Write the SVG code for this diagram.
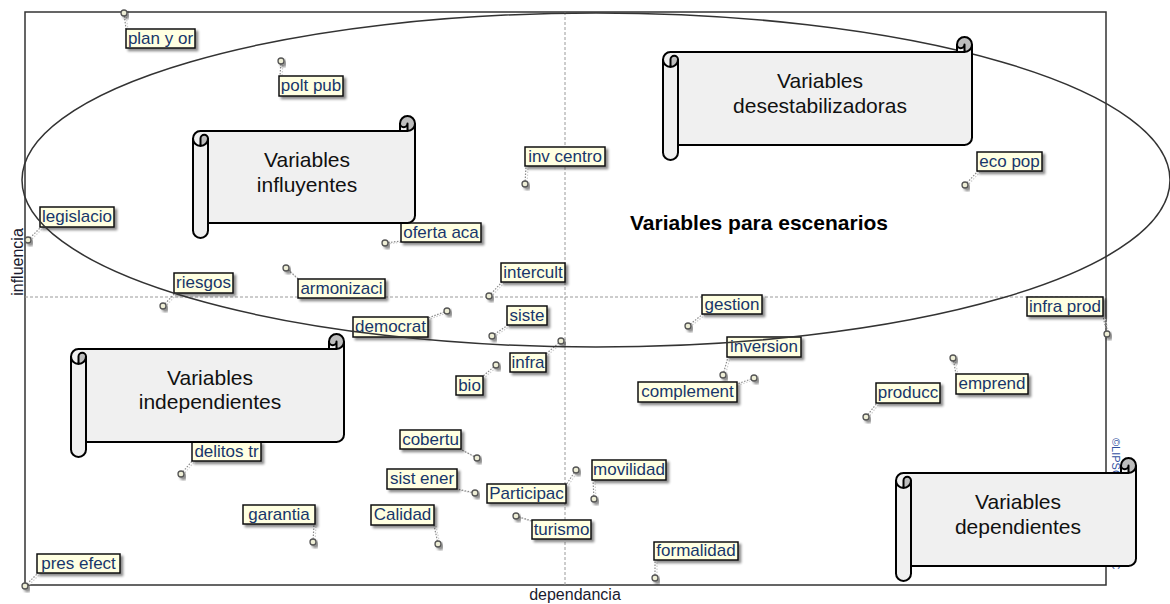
<svg xmlns="http://www.w3.org/2000/svg" width="1170" height="604" viewBox="0 0 1170 604">
<defs>
<filter id="sh" x="-20%" y="-30%" width="150%" height="190%">
<feDropShadow dx="2.5" dy="2.5" stdDeviation="1" flood-color="#000" flood-opacity="0.45"/>
</filter>
<style>
.frame{fill:none;stroke:#333;stroke-width:1.5}
.grid{fill:none;stroke:#9a9a9a;stroke-width:1;stroke-dasharray:3 2}
.ell{fill:none;stroke:#333;stroke-width:1.5}
.axis{font-family:"Liberation Sans",Arial,sans-serif;font-size:16px;fill:#1a1a2e}
.copy{font-family:"Liberation Sans",Arial,sans-serif;font-size:11px;fill:#2f4f9f}
.conn{fill:none;stroke:#8a8a8a;stroke-width:1.2;stroke-dasharray:1.5 1.5}
.conn2{fill:none;stroke:#cfcfcf;stroke-width:1.2;stroke-dasharray:1.5 1.5}
.pt{fill:#eeeed6;stroke:#555;stroke-width:1.3;filter:url(#sh)}
.box{fill:#ffffe1;stroke:#111;stroke-width:1.5;filter:url(#sh)}
.lt{font-family:"Liberation Sans",Arial,sans-serif;font-size:17px;fill:#17366b;text-anchor:middle}
.sf{fill:#f0f0f0}
.sd{fill:#bdbdbd}
.sl{fill:none;stroke:#000;stroke-width:2;stroke-linejoin:round}
.st{font-family:"Liberation Sans",Arial,sans-serif;font-size:21px;fill:#111;text-anchor:middle}
.bt{font-family:"Liberation Sans",Arial,sans-serif;font-size:21px;font-weight:bold;fill:#000;text-anchor:middle}
</style>
</defs>
<rect width="1170" height="604" fill="#fff"/>
<g id="axes">
<rect class="frame" x="25" y="12" width="1081" height="573"/>
<line class="grid" x1="565" y1="12" x2="565" y2="585"/>
<line class="grid" x1="25" y1="297" x2="1106" y2="297"/>
<text class="axis" transform="translate(23,262) rotate(-90)" text-anchor="middle">influencia</text>
<text class="axis" x="575" y="600" text-anchor="middle">dependancia</text>
<text class="copy" transform="translate(1112,438) rotate(90)">©LIPSOR-EPITA-MICMAC</text>
</g>
<g id="connectors">
<line class="conn2" x1="126" y1="14" x2="128" y2="30"/><line class="conn" x1="124" y1="13" x2="126" y2="29"/>
<line class="conn2" x1="283" y1="62" x2="282" y2="77"/><line class="conn" x1="281" y1="61" x2="280" y2="76"/>
<line class="conn2" x1="30" y1="241" x2="43" y2="228"/><line class="conn" x1="28" y1="240" x2="41" y2="227"/>
<line class="conn2" x1="165" y1="307" x2="177" y2="294"/><line class="conn" x1="163" y1="306" x2="175" y2="293"/>
<line class="conn2" x1="288" y1="269" x2="300" y2="280"/><line class="conn" x1="286" y1="268" x2="298" y2="279"/>
<line class="conn2" x1="387" y1="244" x2="403" y2="242"/><line class="conn" x1="385" y1="243" x2="401" y2="241"/>
<line class="conn2" x1="527" y1="185" x2="528" y2="167"/><line class="conn" x1="525" y1="184" x2="526" y2="166"/>
<line class="conn2" x1="967" y1="186" x2="980" y2="172"/><line class="conn" x1="965" y1="185" x2="978" y2="171"/>
<line class="conn2" x1="1109" y1="335" x2="1105" y2="317"/><line class="conn" x1="1107" y1="334" x2="1103" y2="316"/>
<line class="conn2" x1="491" y1="297" x2="504" y2="283"/><line class="conn" x1="489" y1="296" x2="502" y2="282"/>
<line class="conn2" x1="449" y1="312" x2="430" y2="319"/><line class="conn" x1="447" y1="311" x2="428" y2="318"/>
<line class="conn2" x1="494" y1="337" x2="510" y2="326"/><line class="conn" x1="492" y1="336" x2="508" y2="325"/>
<line class="conn2" x1="563" y1="342" x2="548" y2="355"/><line class="conn" x1="561" y1="341" x2="546" y2="354"/>
<line class="conn2" x1="498" y1="366" x2="484" y2="378"/><line class="conn" x1="496" y1="365" x2="482" y2="377"/>
<line class="conn2" x1="690" y1="327" x2="705" y2="315"/><line class="conn" x1="688" y1="326" x2="703" y2="314"/>
<line class="conn2" x1="725" y1="376" x2="730" y2="358"/><line class="conn" x1="723" y1="375" x2="728" y2="357"/>
<line class="conn2" x1="756" y1="379" x2="739" y2="385"/><line class="conn" x1="754" y1="378" x2="737" y2="384"/>
<line class="conn2" x1="868" y1="418" x2="879" y2="404"/><line class="conn" x1="866" y1="417" x2="877" y2="403"/>
<line class="conn2" x1="955" y1="359" x2="958" y2="375"/><line class="conn" x1="953" y1="358" x2="956" y2="374"/>
<line class="conn2" x1="183" y1="475" x2="195" y2="461"/><line class="conn" x1="181" y1="474" x2="193" y2="460"/>
<line class="conn2" x1="315" y1="543" x2="316" y2="525"/><line class="conn" x1="313" y1="542" x2="314" y2="524"/>
<line class="conn2" x1="27" y1="587" x2="40" y2="574"/><line class="conn" x1="25" y1="586" x2="38" y2="573"/>
<line class="conn2" x1="479" y1="459" x2="462" y2="450"/><line class="conn" x1="477" y1="458" x2="460" y2="449"/>
<line class="conn2" x1="477" y1="494" x2="459" y2="490"/><line class="conn" x1="475" y1="493" x2="457" y2="489"/>
<line class="conn2" x1="578" y1="471" x2="568" y2="486"/><line class="conn" x1="576" y1="470" x2="566" y2="485"/>
<line class="conn2" x1="596" y1="500" x2="595" y2="481"/><line class="conn" x1="594" y1="499" x2="593" y2="480"/>
<line class="conn2" x1="518" y1="517" x2="534" y2="522"/><line class="conn" x1="516" y1="516" x2="532" y2="521"/>
<line class="conn2" x1="440" y1="545" x2="436" y2="526"/><line class="conn" x1="438" y1="544" x2="434" y2="525"/>
<line class="conn2" x1="657" y1="579" x2="657" y2="561"/><line class="conn" x1="655" y1="578" x2="655" y2="560"/>
</g>
<g id="n-plan"><circle class="pt" cx="124" cy="13" r="3"/><rect class="box" x="126" y="29" width="69" height="19"/><text class="lt" x="160.5" y="44">plan y or</text></g>
<g id="n-polt"><circle class="pt" cx="281" cy="61" r="3"/><rect class="box" x="279" y="76" width="64" height="20"/><text class="lt" x="311" y="91">polt pub</text></g>
<g id="n-legislacio"><circle class="pt" cx="28" cy="240" r="3"/><rect class="box" x="40" y="207" width="74" height="20"/><text class="lt" x="77" y="222">legislacio</text></g>
<g id="n-riesgos"><circle class="pt" cx="163" cy="306" r="3"/><rect class="box" x="174" y="273" width="59" height="20"/><text class="lt" x="203.5" y="288">riesgos</text></g>
<g id="n-armonizaci"><circle class="pt" cx="286" cy="268" r="3"/><rect class="box" x="298" y="279" width="87" height="19"/><text class="lt" x="341.5" y="294">armonizaci</text></g>
<g id="n-oferta"><circle class="pt" cx="385" cy="243" r="3"/><rect class="box" x="401" y="223" width="80" height="19"/><text class="lt" x="441" y="238">oferta aca</text></g>
<g id="n-inv"><circle class="pt" cx="525" cy="184" r="3"/><rect class="box" x="525" y="147" width="80" height="19"/><text class="lt" x="565" y="162">inv centro</text></g>
<g id="n-eco"><circle class="pt" cx="965" cy="185" r="3"/><rect class="box" x="977" y="152" width="65" height="19"/><text class="lt" x="1009.5" y="167">eco pop</text></g>
<g id="n-infraprod"><circle class="pt" cx="1107" cy="334" r="3"/><rect class="box" x="1027" y="297" width="76" height="19"/><text class="lt" x="1065" y="312">infra prod</text></g>
<g id="n-intercult"><circle class="pt" cx="489" cy="296" r="3"/><rect class="box" x="501" y="263" width="64" height="19"/><text class="lt" x="533" y="278">intercult</text></g>
<g id="n-democrat"><circle class="pt" cx="447" cy="311" r="3"/><rect class="box" x="353" y="317" width="75" height="20"/><text class="lt" x="390.5" y="332">democrat</text></g>
<g id="n-siste"><circle class="pt" cx="492" cy="336" r="3"/><rect class="box" x="507" y="306" width="40" height="19"/><text class="lt" x="527" y="321">siste</text></g>
<g id="n-infra"><circle class="pt" cx="561" cy="341" r="3"/><rect class="box" x="510" y="353" width="36" height="19"/><text class="lt" x="528" y="368">infra</text></g>
<g id="n-bio"><circle class="pt" cx="496" cy="365" r="3"/><rect class="box" x="456" y="376" width="27" height="19"/><text class="lt" x="469.5" y="391">bio</text></g>
<g id="n-gestion"><circle class="pt" cx="688" cy="326" r="3"/><rect class="box" x="702" y="295" width="60" height="19"/><text class="lt" x="732" y="310">gestion</text></g>
<g id="n-inversion"><circle class="pt" cx="723" cy="375" r="3"/><rect class="box" x="727" y="337" width="74" height="20"/><text class="lt" x="764" y="352">inversion</text></g>
<g id="n-complement"><circle class="pt" cx="754" cy="378" r="3"/><rect class="box" x="638" y="382" width="99" height="20"/><text class="lt" x="687.5" y="397">complement</text></g>
<g id="n-producc"><circle class="pt" cx="866" cy="417" r="3"/><rect class="box" x="876" y="383" width="64" height="20"/><text class="lt" x="908" y="398">producc</text></g>
<g id="n-emprend"><circle class="pt" cx="953" cy="358" r="3"/><rect class="box" x="956" y="374" width="72" height="20"/><text class="lt" x="992" y="389">emprend</text></g>
<g id="n-delitos"><circle class="pt" cx="181" cy="474" r="3"/><rect class="box" x="192" y="442" width="69" height="19"/><text class="lt" x="226.5" y="457">delitos tr</text></g>
<g id="n-garantia"><circle class="pt" cx="313" cy="542" r="3"/><rect class="box" x="243" y="505" width="72" height="19"/><text class="lt" x="279" y="520">garantia</text></g>
<g id="n-pres"><circle class="pt" cx="25" cy="586" r="3"/><rect class="box" x="37" y="554" width="83" height="19"/><text class="lt" x="78.5" y="569">pres efect</text></g>
<g id="n-cobertu"><circle class="pt" cx="477" cy="458" r="3"/><rect class="box" x="400" y="430" width="61" height="19"/><text class="lt" x="430.5" y="445">cobertu</text></g>
<g id="n-sist"><circle class="pt" cx="475" cy="493" r="3"/><rect class="box" x="387" y="469" width="70" height="20"/><text class="lt" x="422" y="484">sist ener</text></g>
<g id="n-participac"><circle class="pt" cx="576" cy="470" r="3"/><rect class="box" x="487" y="484" width="79" height="19"/><text class="lt" x="526.5" y="499">Participac</text></g>
<g id="n-movilidad"><circle class="pt" cx="594" cy="499" r="3"/><rect class="box" x="592" y="460" width="74" height="20"/><text class="lt" x="629" y="475">movilidad</text></g>
<g id="n-turismo"><circle class="pt" cx="516" cy="516" r="3"/><rect class="box" x="532" y="520" width="59" height="19"/><text class="lt" x="561.5" y="535">turismo</text></g>
<g id="n-calidad"><circle class="pt" cx="438" cy="544" r="3"/><rect class="box" x="371" y="505" width="63" height="20"/><text class="lt" x="402.5" y="520">Calidad</text></g>
<g id="n-formalidad"><circle class="pt" cx="655" cy="578" r="3"/><rect class="box" x="654" y="542" width="84" height="18"/><text class="lt" x="696" y="556">formalidad</text></g>
<g id="ellipse"><ellipse class="ell" cx="596" cy="180" rx="574" ry="167"/></g>
<text id="escenarios" class="bt" x="759" y="230">Variables para escenarios</text>
<g id="s-influyentes">
<path class="sf" d="M193,138.5 A7.5,7.5 0 0 1 200.5,131 L400,131 L400,123.5 A7.5,7.5 0 0 1 415,123.5 L415,215.5 A7.5,7.5 0 0 1 407.5,223 L208,223 L208,230.5 A7.5,7.5 0 0 1 193,230.5 Z"/>
<path class="sd" d="M200.5,146 A7.5,7.5 0 0 0 208,138.5 A3.75,3.75 0 0 0 200.5,138.5 Z M407.5,131 A7.5,7.5 0 1 0 400,123.5 A3.75,3.75 0 0 0 407.5,123.5 Z"/>
<path class="sl" d="M193,138.5 A7.5,7.5 0 0 1 200.5,131 L400,131 L400,123.5 A7.5,7.5 0 0 1 415,123.5 L415,215.5 A7.5,7.5 0 0 1 407.5,223 L208,223 L208,230.5 A7.5,7.5 0 0 1 193,230.5 Z M400,131 L407.5,131 A7.5,7.5 0 0 0 415,123.5 M407.5,131 L407.5,123.5 A3.75,3.75 0 0 1 400,123.5 M200.5,146 L200.5,138.5 A3.75,3.75 0 0 1 208,138.5 A7.5,7.5 0 0 1 193,138.5 M208,138.5 L208,223"/>
<text class="st" x="307" y="167">Variables</text><text class="st" x="307" y="192">influyentes</text>
</g>
<g id="s-desestabilizadoras">
<path class="sf" d="M663,59.5 A7.5,7.5 0 0 1 670.5,52 L957,52 L957,44.5 A7.5,7.5 0 0 1 972,44.5 L972,137.5 A7.5,7.5 0 0 1 964.5,145 L678,145 L678,152.5 A7.5,7.5 0 0 1 663,152.5 Z"/>
<path class="sd" d="M670.5,67 A7.5,7.5 0 0 0 678,59.5 A3.75,3.75 0 0 0 670.5,59.5 Z M964.5,52 A7.5,7.5 0 1 0 957,44.5 A3.75,3.75 0 0 0 964.5,44.5 Z"/>
<path class="sl" d="M663,59.5 A7.5,7.5 0 0 1 670.5,52 L957,52 L957,44.5 A7.5,7.5 0 0 1 972,44.5 L972,137.5 A7.5,7.5 0 0 1 964.5,145 L678,145 L678,152.5 A7.5,7.5 0 0 1 663,152.5 Z M957,52 L964.5,52 A7.5,7.5 0 0 0 972,44.5 M964.5,52 L964.5,44.5 A3.75,3.75 0 0 1 957,44.5 M670.5,67 L670.5,59.5 A3.75,3.75 0 0 1 678,59.5 A7.5,7.5 0 0 1 663,59.5 M678,59.5 L678,145"/>
<text class="st" x="820" y="88">Variables</text><text class="st" x="820" y="113">desestabilizadoras</text>
</g>
<g id="s-independientes">
<path class="sf" d="M71,356.5 A7.5,7.5 0 0 1 78.5,349 L329,349 L329,341.5 A7.5,7.5 0 0 1 344,341.5 L344,434.5 A7.5,7.5 0 0 1 336.5,442 L86,442 L86,449.5 A7.5,7.5 0 0 1 71,449.5 Z"/>
<path class="sd" d="M78.5,364 A7.5,7.5 0 0 0 86,356.5 A3.75,3.75 0 0 0 78.5,356.5 Z M336.5,349 A7.5,7.5 0 1 0 329,341.5 A3.75,3.75 0 0 0 336.5,341.5 Z"/>
<path class="sl" d="M71,356.5 A7.5,7.5 0 0 1 78.5,349 L329,349 L329,341.5 A7.5,7.5 0 0 1 344,341.5 L344,434.5 A7.5,7.5 0 0 1 336.5,442 L86,442 L86,449.5 A7.5,7.5 0 0 1 71,449.5 Z M329,349 L336.5,349 A7.5,7.5 0 0 0 344,341.5 M336.5,349 L336.5,341.5 A3.75,3.75 0 0 1 329,341.5 M78.5,364 L78.5,356.5 A3.75,3.75 0 0 1 86,356.5 A7.5,7.5 0 0 1 71,356.5 M86,356.5 L86,442"/>
<text class="st" x="210" y="385">Variables</text><text class="st" x="210" y="409">independientes</text>
</g>
<g id="s-dependientes">
<path class="sf" d="M896,480.5 A7.5,7.5 0 0 1 903.5,473 L1121,473 L1121,465.5 A7.5,7.5 0 0 1 1136,465.5 L1136,558.5 A7.5,7.5 0 0 1 1128.5,566 L911,566 L911,573.5 A7.5,7.5 0 0 1 896,573.5 Z"/>
<path class="sd" d="M903.5,488 A7.5,7.5 0 0 0 911,480.5 A3.75,3.75 0 0 0 903.5,480.5 Z M1128.5,473 A7.5,7.5 0 1 0 1121,465.5 A3.75,3.75 0 0 0 1128.5,465.5 Z"/>
<path class="sl" d="M896,480.5 A7.5,7.5 0 0 1 903.5,473 L1121,473 L1121,465.5 A7.5,7.5 0 0 1 1136,465.5 L1136,558.5 A7.5,7.5 0 0 1 1128.5,566 L911,566 L911,573.5 A7.5,7.5 0 0 1 896,573.5 Z M1121,473 L1128.5,473 A7.5,7.5 0 0 0 1136,465.5 M1128.5,473 L1128.5,465.5 A3.75,3.75 0 0 1 1121,465.5 M903.5,488 L903.5,480.5 A3.75,3.75 0 0 1 911,480.5 A7.5,7.5 0 0 1 896,480.5 M911,480.5 L911,566"/>
<text class="st" x="1018" y="509">Variables</text><text class="st" x="1018" y="534">dependientes</text>
</g>
</svg>
